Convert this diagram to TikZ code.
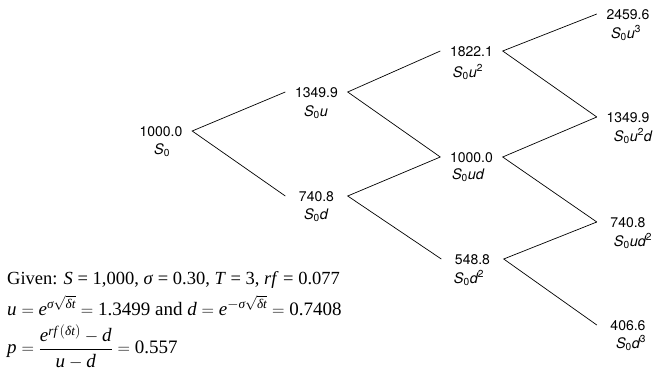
\documentclass[tikz,border=0pt]{standalone}
\usepackage{amsmath}
\usepackage{fontspec}
\setmainfont{Liberation Serif}
\newfontfamily\herosfont{TeX Gyre Heros}
\newcommand\SzLbl{S\textsubscript{\upshape 0}}
\newcommand\supUp[1]{\textsuperscript{\upshape #1}}
\newcommand\mi[1]{\text{\itshape #1}}
\newcommand\nm[1]{\text{\upshape #1}}
\begin{document}
\begin{tikzpicture}[x=1pt,y=-1pt,
  num/.style={font=\herosfont\fontsize{14}{16}\selectfont, inner sep=0pt, minimum width=62pt, text height=10pt, text depth=0pt},
  lbl/.style={font=\herosfont\itshape\fontsize{14.5}{16}\selectfont, inner sep=0pt},
  branch/.style={draw, line width=0.7pt},
  formula/.style={font=\fontsize{19}{22}\selectfont, inner sep=0pt}]
\useasboundingbox (0,0) rectangle (655,388);
% level 0
\node[num] (n0) at (161,131) {1000.0};
\node[lbl] (l0) at (162,150) {\SzLbl};
% level 1
\node[num] (n1u) at (316.5,92) {1349.9};
\node[lbl] (l1u) at (316,112) {\SzLbl u};
\node[num] (n1d) at (316.5,196) {740.8};
\node[lbl] (l1d) at (316,215) {\SzLbl d};
% level 2
\node[num] (n2uu) at (471.5,51) {1822.1};
\node[lbl] (l2uu) at (468,72) {\SzLbl u\supUp{2}};
\node[num] (n2ud) at (471.5,157) {1000.0};
\node[lbl] (l2ud) at (468,175) {\SzLbl ud};
\node[num] (n2dd) at (472.5,259) {548.8};
\node[lbl] (l2dd) at (469,278) {\SzLbl d\supUp{2}};
% level 3
\node[num] (n3a) at (628,14) {2459.6};
\node[lbl] (l3a) at (626,33) {\SzLbl u\supUp{3}};
\node[num] (n3b) at (628,117) {1349.9};
\node[lbl] (l3b) at (633,136) {\SzLbl u\supUp{2}d};
\node[num] (n3c) at (628,222) {740.8};
\node[lbl] (l3c) at (633,241) {\SzLbl ud\supUp{2}};
\node[num] (n3d) at (628,325) {406.6};
\node[lbl] (l3d) at (631,343) {\SzLbl d\supUp{3}};
% branches
\path[branch] (n1u.west) -- (n0.east) -- (n1d.west);
\path[branch] (n2uu.west) -- (n1u.east) -- (n2ud.west);
\path[branch] (n2ud.west) -- (n1d.east) -- (n2dd.west);
\path[branch] (n3a.west) -- (n2uu.east) -- (n3b.west);
\path[branch] (n3b.west) -- (n2ud.east) -- (n3c.west);
\path[branch] (n3c.west) -- (n2dd.east) -- (n3d.west);
% formulas
\node[formula, font=\fontsize{18.5}{22}\selectfont, anchor=base west] (given) at (7,284) {Given: \textit{S} = 1,000, \textit{σ} = 0.30, \textit{T} = 3, \textit{rf} = 0.077};
\node[formula, anchor=base west] (ud) at (7,315) {$\mi{u}=\mi{e}^{\mi{σ}\sqrt{\mi{δt}}}=\nm{1.3499}$ and $\mi{d}=\mi{e}^{-\mi{σ}\sqrt{\mi{δt}}}=\nm{0.7408}$};
\node[formula, anchor=west] (pp) at (7,347) {$\mi{p}=\dfrac{\mi{e}^{\mi{rf}\,(\mi{δt})}-\mi{d}\rule[-3pt]{0pt}{0pt}}{\rule{0pt}{16pt}\mi{u}-\mi{d}}=\nm{0.557}$};
\end{tikzpicture}
\end{document}
